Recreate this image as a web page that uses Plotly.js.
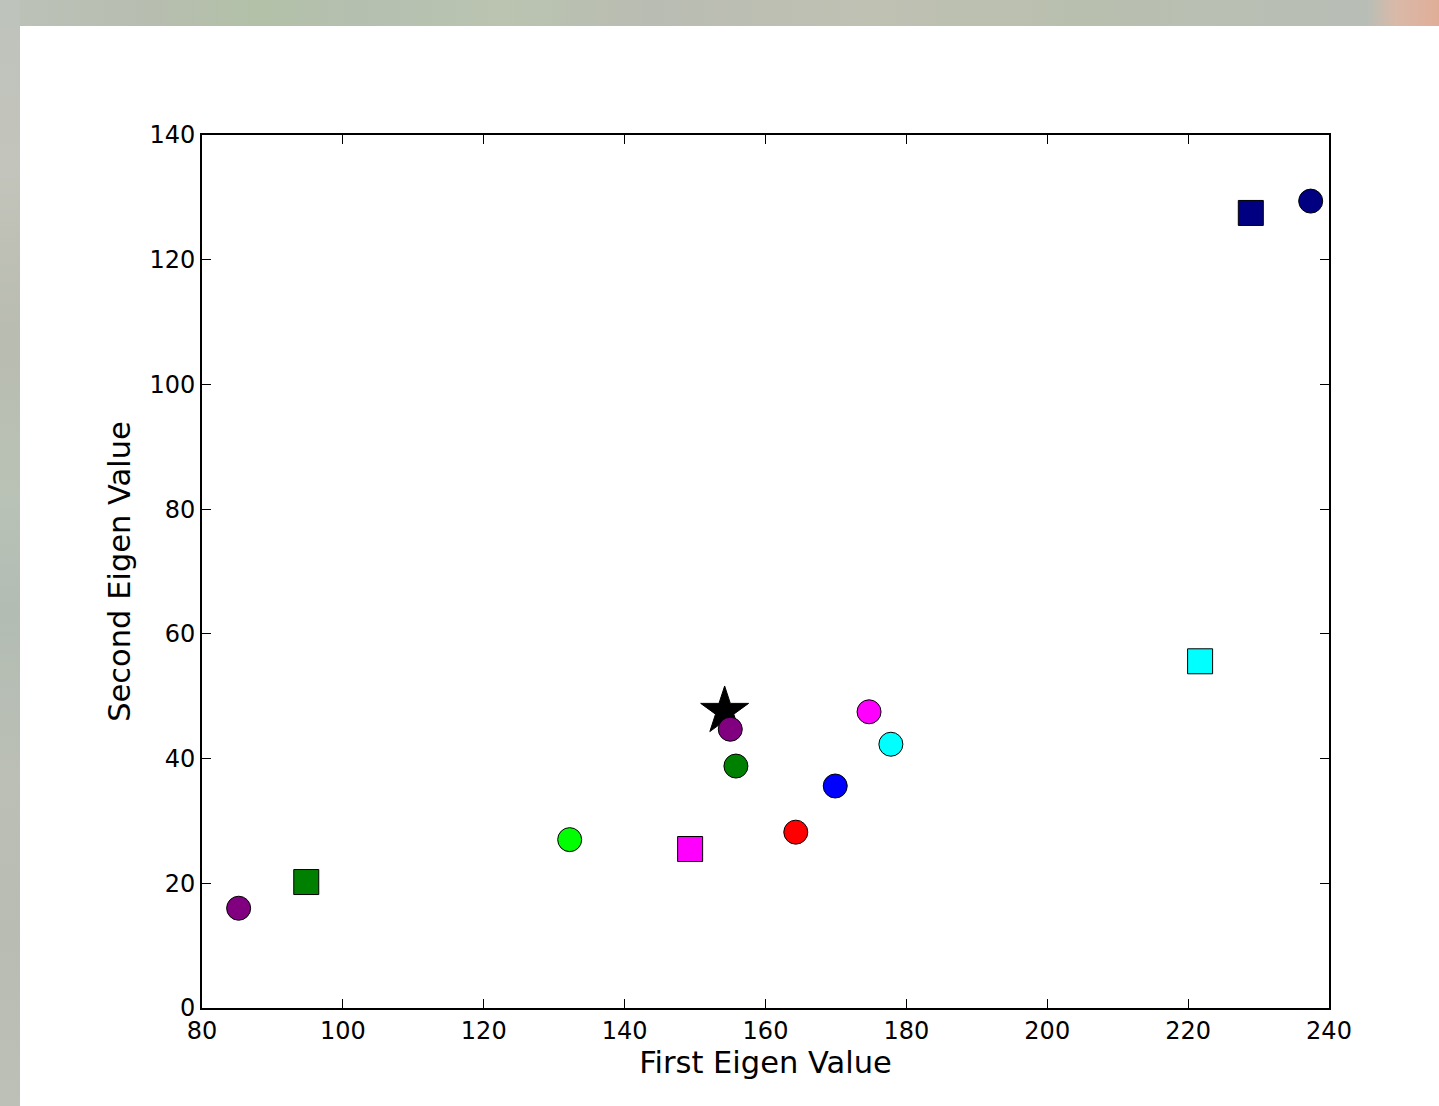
<!DOCTYPE html>
<html>
<head>
<meta charset="utf-8">
<script src="https://cdn.plot.ly/plotly-3.0.1.min.js"></script>
<style>
html, body { margin: 0; padding: 0; }
body {
  width: 1439px; height: 1106px; overflow: hidden; position: relative;
  background: linear-gradient(to right, #bcc2b8 0%, #b7bdb0 10%, #b3c1a8 18%, #b5bfb0 25%, #bac4b0 35%, #b9bcb2 45%, #bfc1b3 60%, #b9bfae 75%, #b8beb6 95%, #d9b9a8 97%, #e0ae98 100%);
}
#left { position: absolute; left: 0; top: 0; width: 20px; height: 1106px;
  background: linear-gradient(to bottom, #bec3bb 0%, #c3c4bb 15%, #b9bcb0 30%, #b9c2b6 45%, #b2bcb3 55%, #bbbfb5 70%, #b9bcb3 85%, #bcc0b6 100%); }
#chart { position: absolute; left: 20px; top: 26px; width: 1419px; height: 1080px; background: #fff; }
</style>
</head>
<body>
<div id="left"></div>
<div id="chart"></div>
<script>
// Data (star first so it is drawn underneath)
const xValues = [154.2, 85.2, 94.8, 132.2, 149.3, 155.0, 155.8, 164.3, 169.9, 174.7, 177.8, 221.7, 228.9, 237.4];
const yValues = [47.6, 16.0, 20.2, 27.0, 25.5, 44.7, 38.8, 28.2, 35.6, 47.5, 42.3, 55.6, 127.5, 129.4];
const pointColors = ['#000000', '#800080', '#008000', '#00ff00', '#ff00ff', '#800080', '#008000', '#ff0000', '#0000ff', '#ff00ff', '#00ffff', '#00ffff', '#000080', '#000080'];
const pointShapes = ['star', 'circle', 'square', 'circle', 'square', 'circle', 'circle', 'circle', 'circle', 'circle', 'circle', 'square', 'square', 'circle'];
const xTicks = [80, 100, 120, 140, 160, 180, 200, 220, 240];
const yTicks = [0, 20, 40, 60, 80, 100, 120, 140];

const sizeFor = s => s === 'star' ? 36 : (s === 'square' ? 25 : 24);

const trace = {
  type: 'scatter', mode: 'markers',
  x: xValues, y: yValues,
  hoverinfo: 'skip',
  marker: {
    color: pointColors,
    symbol: pointShapes,
    size: pointShapes.map(sizeFor),
    opacity: 1,
    line: { color: '#000', width: 1 }
  },
  cliponaxis: false
};

const axisCommon = {
  showgrid: false, zeroline: false,
  showline: true, linecolor: '#000', linewidth: 2,
  mirror: 'ticks', ticks: 'inside', ticklen: 9, tickwidth: 1, tickcolor: '#000',
  tickfont: { family: 'DejaVu Sans', size: 24, color: '#000' }
};

const layout = {
  width: 1419, height: 1080,
  margin: { l: 182, r: 110, t: 109, b: 98 },
  paper_bgcolor: '#fff', plot_bgcolor: '#fff',
  showlegend: false,
  xaxis: Object.assign({}, axisCommon, {
    range: [80, 240], tickvals: xTicks, ticktext: xTicks.map(String),
    title: { text: 'First Eigen Value', font: { family: 'DejaVu Sans', size: 30.5, color: '#000' }, standoff: 8 }
  }),
  yaxis: Object.assign({}, axisCommon, {
    range: [0, 140], tickvals: yTicks, ticktext: yTicks.map(String),
    title: { text: 'Second Eigen Value', font: { family: 'DejaVu Sans', size: 30.5, color: '#000' }, standoff: 10 }
  })
};

Plotly.newPlot('chart', [trace], layout, { displayModeBar: false, staticPlot: true });
</script>
</body>
</html>
